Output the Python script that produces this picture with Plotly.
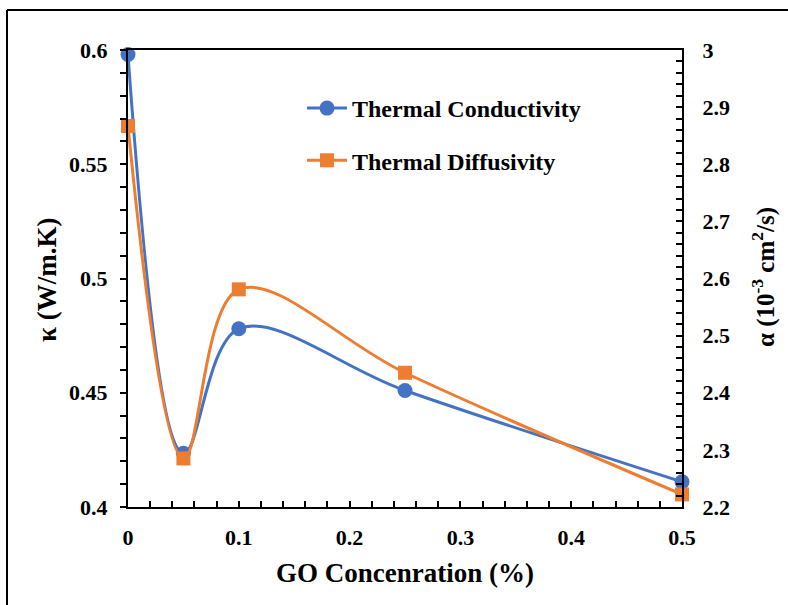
import plotly.graph_objects as go

go_conc = [0, 0.05, 0.1, 0.25, 0.5]
conductivity = [0.598, 0.4235, 0.478, 0.451, 0.411]
diffusivity = [2.867, 2.285, 2.581, 2.435, 2.222]

x_ticks = [0, 0.1, 0.2, 0.3, 0.4, 0.5]
x_labels = ["0", "0.1", "0.2", "0.3", "0.4", "0.5"]
y1_ticks = [0.4, 0.45, 0.5, 0.55, 0.6]
y1_labels = ["0.4", "0.45", "0.5", "0.55", "0.6"]
y2_ticks = [2.2, 2.3, 2.4, 2.5, 2.6, 2.7, 2.8, 2.9, 3.0]
y2_labels = ["2.2", "2.3", "2.4", "2.5", "2.6", "2.7", "2.8", "2.9", "3"]

BLUE = "#4472C4"
ORANGE = "#ED7D31"
FONT = "Liberation Serif, Times New Roman, serif"

L, R, T, B = 128, 682, 50, 507
W, H = 788, 605

fig = go.Figure()
fig.add_trace(go.Scatter(
    x=go_conc, y=conductivity, name="<b>Thermal Conductivity</b>", legendgroup="a",
    mode="lines+markers", line=dict(color=BLUE, width=3, shape="spline", smoothing=1),
    marker=dict(symbol="circle", size=15, color=BLUE), yaxis="y", cliponaxis=False))
fig.add_trace(go.Scatter(
    x=go_conc, y=diffusivity, name="<b>Thermal Diffusivity</b>", legendgroup="b",
    mode="lines+markers", line=dict(color=ORANGE, width=3, shape="spline", smoothing=1),
    marker=dict(symbol="square", size=14, color=ORANGE), yaxis="y2", cliponaxis=False))

tickfont = dict(family=FONT, size=22, color="black")

def bold(lst):
    return ["<b>" + s + "</b>" for s in lst]

fig.update_layout(
    width=W, height=H,
    margin=dict(l=L, r=W - R, t=T, b=H - B),
    paper_bgcolor="white", plot_bgcolor="white",
    showlegend=True,
    legend=dict(x=(302 - L) / (R - L), y=1 - (86 - T) / (B - T), xanchor="left", yanchor="top",
                font=dict(family=FONT, size=24, color="black"),
                bgcolor="rgba(0,0,0,0)", tracegroupgap=18, itemwidth=40),
    xaxis=dict(range=[0, 0.5], tickvals=x_ticks, ticktext=bold(x_labels), showgrid=False, zeroline=False,
               showline=True, linecolor="black", linewidth=2, mirror=True,
               ticks="inside", ticklen=6, tickwidth=2, tickcolor="black",
               minor=dict(dtick=0.02, tick0=0, ticks="inside", ticklen=6, tickwidth=2, tickcolor="black"),
               tickfont=tickfont, ticklabelstandoff=10),
    yaxis=dict(range=[0.4, 0.6], tickvals=y1_ticks, ticktext=bold(y1_labels), showgrid=False, zeroline=False,
               showline=True, linecolor="black", linewidth=2,
               ticks="outside", ticklen=6, tickwidth=2, tickcolor="black",
               minor=dict(dtick=0.01, tick0=0.4, ticks="outside", ticklen=6, tickwidth=2, tickcolor="black"),
               tickfont=tickfont, ticklabelstandoff=8),
    yaxis2=dict(range=[2.2, 3.0], tickvals=y2_ticks, ticktext=bold(y2_labels), overlaying="y", side="right",
                showgrid=False, zeroline=False,
                showline=True, linecolor="black", linewidth=2,
                ticks="inside", ticklen=6, tickwidth=2, tickcolor="black",
                minor=dict(dtick=0.02, tick0=2.2, ticks="inside", ticklen=6, tickwidth=2, tickcolor="black"),
                tickfont=tickfont, ticklabelstandoff=14),
)

def px(xp):
    return (xp - L) / (R - L)

def py(yp):
    return 1 - (yp - T) / (B - T)

fig.add_annotation(text="<b>κ (W/m.K)</b>", x=px(47), y=py(280), xref="paper", yref="paper",
                   textangle=-90, showarrow=False, xanchor="center", yanchor="middle",
                   font=dict(family=FONT, size=27, color="black"))
fig.add_annotation(text="<b>α (10<sup>-3</sup> cm<sup>2</sup>/s)</b>", x=px(763), y=py(277),
                   xref="paper", yref="paper", textangle=-90, showarrow=False,
                   xanchor="center", yanchor="middle",
                   font=dict(family=FONT, size=25, color="black"))
fig.add_annotation(text="<b>GO Concenration (%)</b>", x=px(405), y=py(573), xref="paper", yref="paper",
                   showarrow=False, xanchor="center", yanchor="middle",
                   font=dict(family=FONT, size=27, color="black"))

# outer frame (left and top edges)
fig.add_shape(type="line", xref="paper", yref="paper", x0=px(7), y0=py(10), x1=px(7), y1=py(620),
              line=dict(color="black", width=2))
fig.add_shape(type="line", xref="paper", yref="paper", x0=px(7), y0=py(10), x1=px(800), y1=py(10),
              line=dict(color="black", width=2))

fig.write_html("out.html")
